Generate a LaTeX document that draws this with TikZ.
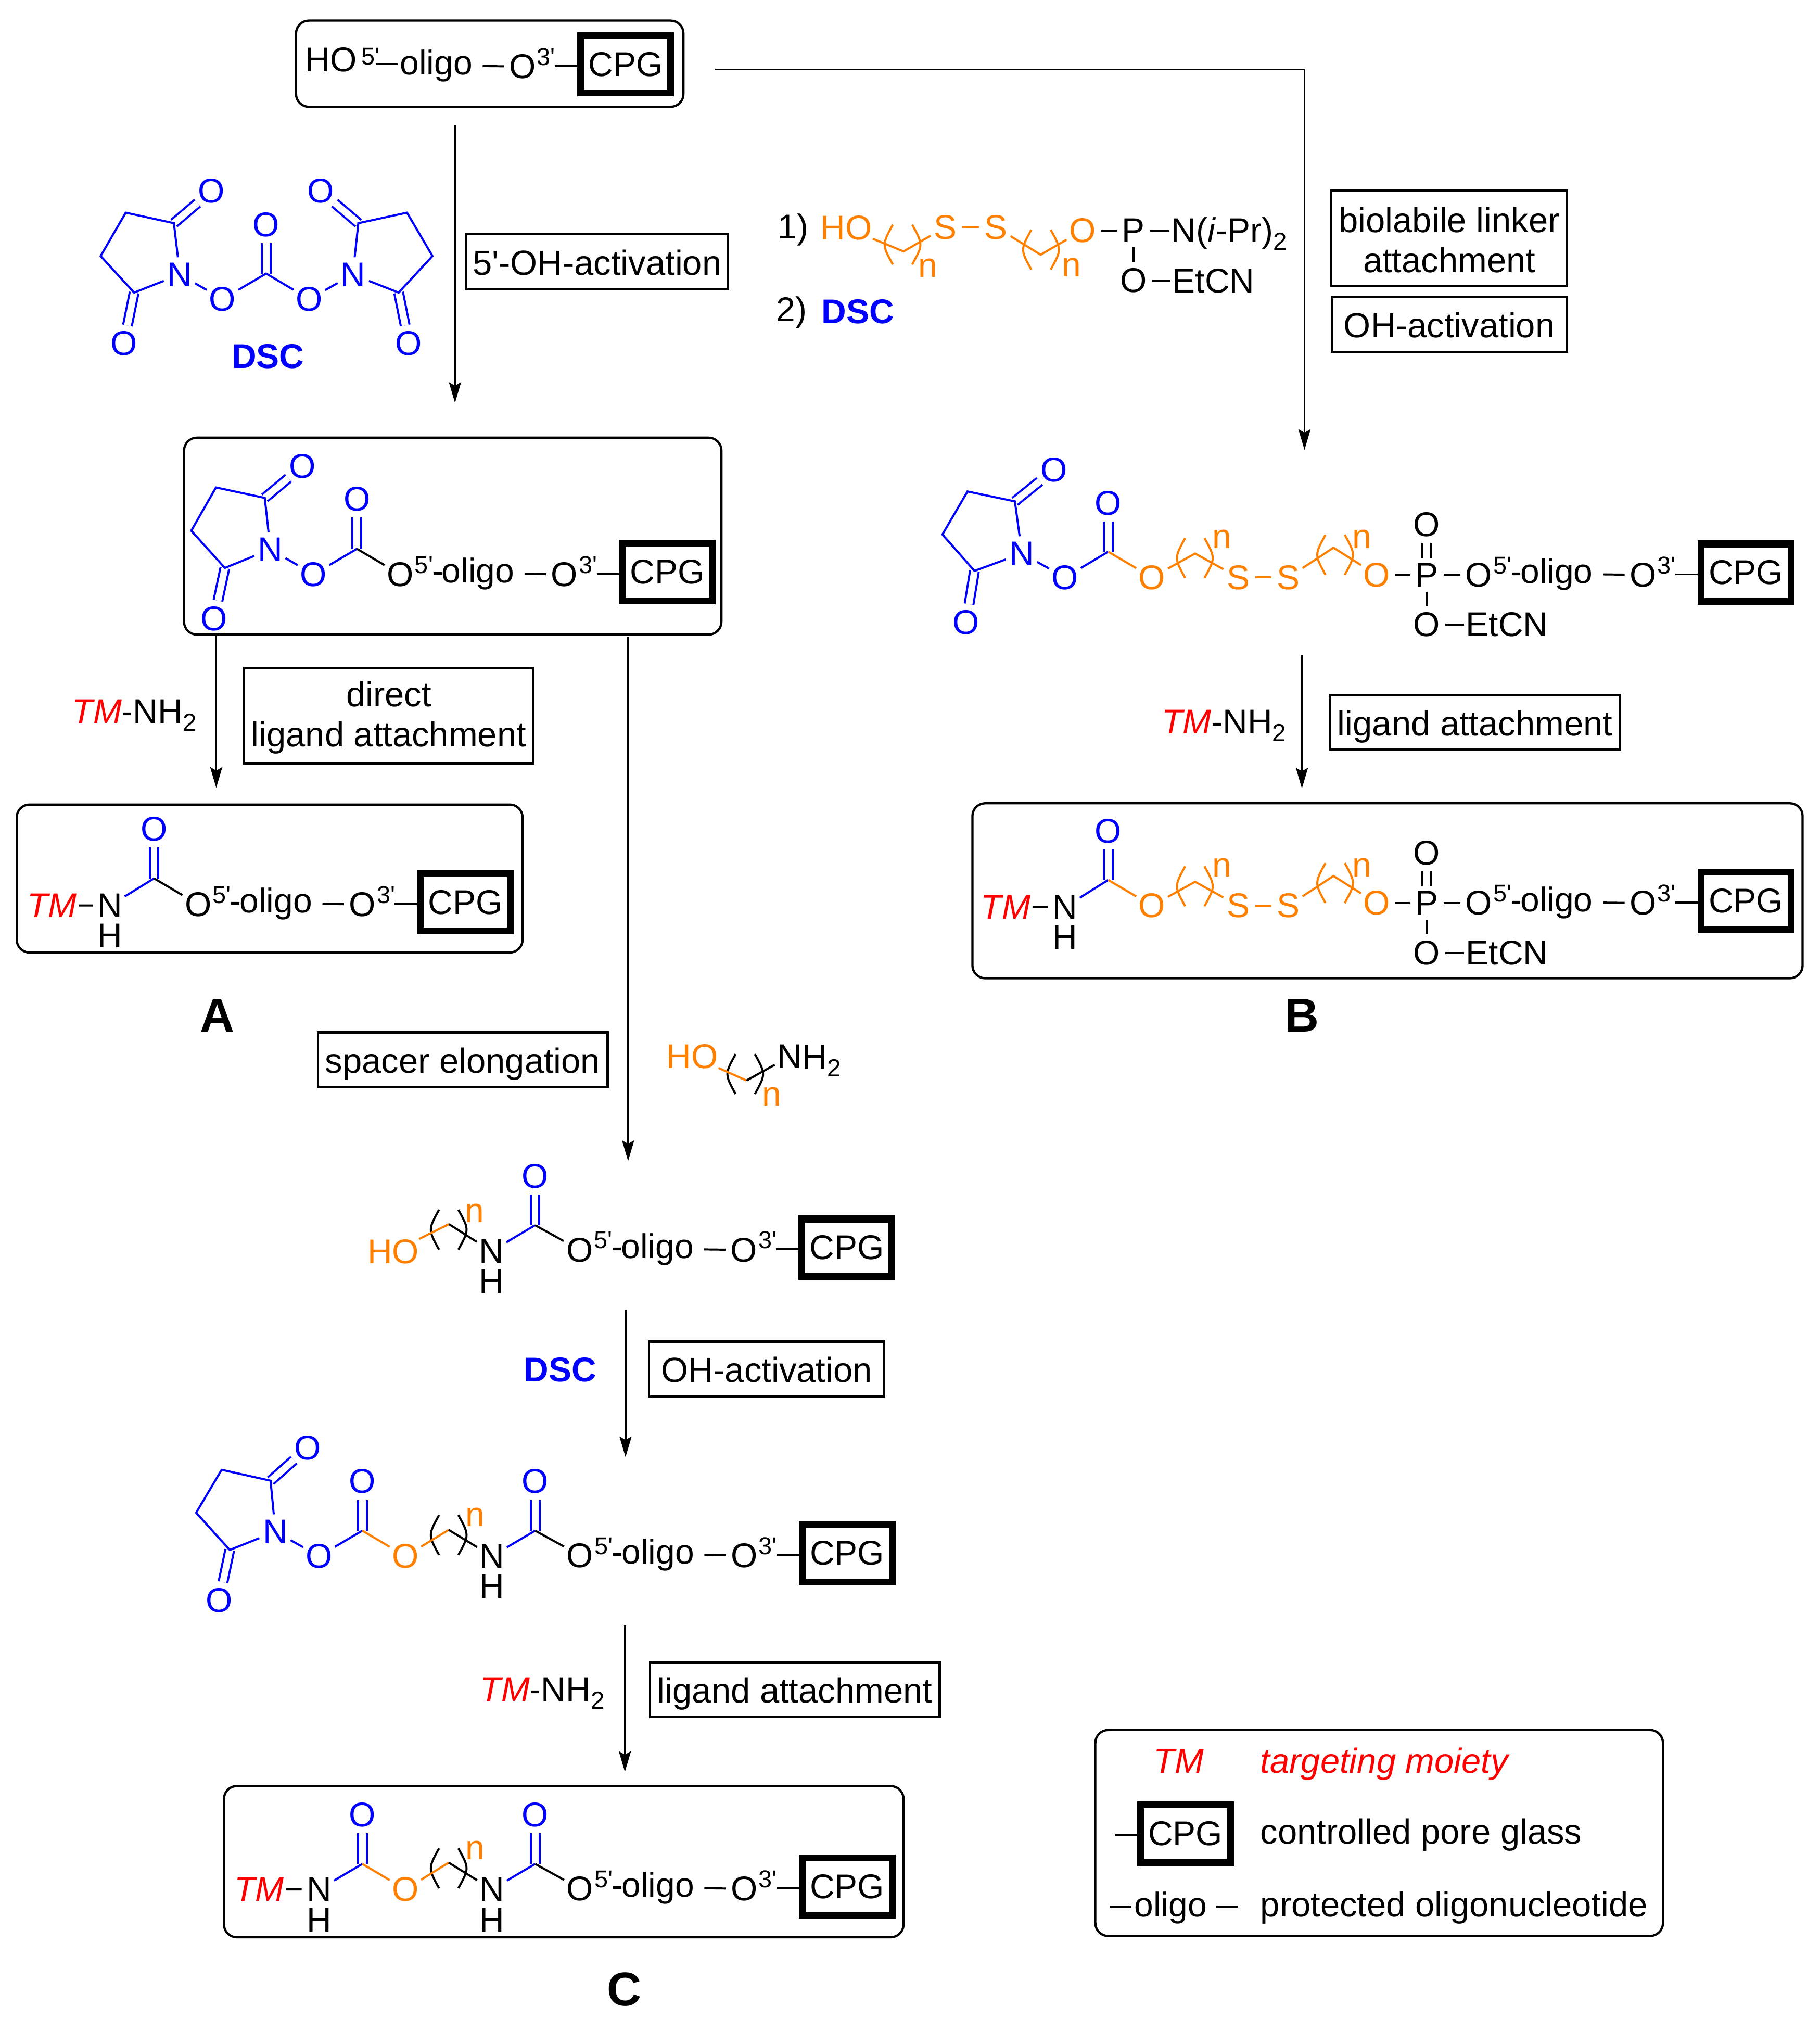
\documentclass[tikz,border=0pt]{standalone}
\usepackage{fontspec}
\setmainfont{Liberation Sans}
\usetikzlibrary{arrows.meta}
\definecolor{chemblue}{RGB}{0,0,255}
\definecolor{chemorange}{RGB}{255,128,0}
\definecolor{chemred}{RGB}{255,0,0}
\newcommand{\chemfont}{\fontsize{20}{24}\selectfont}
\newcommand{\labelfont}{\fontsize{20.3}{23.3}\selectfont}
\newcommand{\supfont}{\fontsize{14.2}{15}\selectfont}
\newcommand{\subtwo}{\raisebox{-4.5pt}{\fontsize{14.4}{15}\selectfont 2}}
\newcommand{\prm}{\textquotesingle}
\newcommand{\firstline}{\rule{0pt}{17pt}}
\tikzset{
  atom/.style={circle,inner sep=0pt,font=\chemfont},
  atomb/.style={atom,text=chemblue},
  atomo/.style={atom,text=chemorange},
  hatom/.style={inner sep=0pt,font=\chemfont},
  chem/.style={inner sep=1pt,anchor=base west,font=\chemfont},
  supr/.style={inner sep=0pt,anchor=base west,font=\supfont},
  tmtext/.style={chem,text=chemred,font=\chemfont\itshape},
  nsub/.style={atomo},
  bond/.style={line width=1.2pt},
  bondb/.style={bond,draw=chemblue},
  bondo/.style={bond,draw=chemorange},
  dbl/.style={bond,double=white,double distance=3.9pt},
  dblb/.style={dbl,draw=chemblue},
  cpg/.style={draw,line width=4pt,minimum width=52.5pt,minimum height=33.5pt,inner sep=0pt,font=\chemfont},
  roundbox/.style={line width=1.3pt,rounded corners=7.5pt},
  labelbox/.style={draw,line width=1.3pt,inner sep=0pt,align=center,font=\labelfont},
  labelone/.style={labelbox,text height=15.6pt,text depth=0pt},
  labelwide/.style={labelone,minimum width=168.8pt,minimum height=31.7pt},
  labelshort/.style={labelone,minimum width=137pt,minimum height=32pt},
  rxn/.style={line width=1.1pt,-{Stealth[length=12pt,width=7pt,inset=2pt]}},
  legend/.style={inner sep=0pt,anchor=base west,font=\labelfont},
  bigletter/.style={inner sep=0pt,anchor=base,font=\fontsize{27.7}{30}\selectfont\bfseries},
  dsctext/.style={inner sep=0pt,text=chemblue,font=\chemfont\bfseries}
}
\begin{document}
\begin{tikzpicture}[x=0.75pt,y=0.75pt,yscale=-1,xscale=1]
\useasboundingbox (0,0) rectangle (1414,1568.5);

%Rounded frames
\draw[roundbox] (230,16) rectangle (531,83);
\draw[roundbox] (143,340) rectangle (560.5,493);
\draw[roundbox] (13,625) rectangle (406,740);
\draw[roundbox] (755.5,624) rectangle (1400.5,760);
\draw[roundbox] (174,1387.5) rectangle (702,1505);
\draw[roundbox] (851,1344) rectangle (1292,1504);

%oligo and CPG, all eight chains
\foreach \n/\x/\y in {ch0/278.5/51.7,ch1/311/446.2,ch2/154/702.6,ch3/1149/446.6,ch4/1149/701.6,ch5/450.4/971,ch6/450.7/1208.4,ch7/450.7/1467.3}{
  \begin{scope}[shift={(\x,\y)}]
    \node[chem,inner sep=0pt] (\n-oligo) at (32,6.5) {oligo};
    \coordinate (\n-da) at (96.5,-0.4);
    \node[atom] (\n-o3) at (127.5,0) {O};
    \node[supr] (\n-s3) at (138.5,-1) {3\prm};
    \coordinate (\n-db) at (152.6,-0.4);
    \node[cpg] (\n-box) at (207.5,-1.7) {CPG};
    \draw[bond] (\n-da) -- (\n-o3);
    \draw[bond] (\n-db) -- (\n-db -| \n-box.west);
  \end{scope}
}
%the 5' end
\foreach \n/\x/\y in {ch1/311/446.2,ch2/154/702.6,ch3/1149/446.6,ch4/1149/701.6,ch5/450.4/971,ch6/450.7/1208.4,ch7/450.7/1467.3}{
  \begin{scope}[shift={(\x,\y)}]
    \node[atom] (\n-o5) at (0,0) {O};
    \node[supr] (\n-s5) at (11,-1) {5\prm};
    \node[chem,inner sep=0pt] (\n-hy) at (24.4,6.5) {-};
  \end{scope}
}
%brackets of the repeat units
\foreach \cx/\cy/\col in {701.2/190/chemorange,808.8/194/chemorange,928.3/433.5/chemorange,1037.3/431/chemorange,928.3/688.5/chemorange,1037.3/686/chemorange,579/834.4/black,348.6/955.3/black,348.6/1192.5/black,348.6/1451.4/black}{
  \draw[bond,draw=\col] (\cx-7.5,\cy-15.5) .. controls (\cx-16,\cy) .. (\cx-7.5,\cy+15.5);
  \draw[bond,draw=\col] (\cx+7.5,\cy-15.5) .. controls (\cx+16,\cy) .. (\cx+7.5,\cy+15.5);
}

%Top chain
\node[chem,inner sep=0pt] (hotop) at (237,55.8) {HO};
\node[supr] (s5top) at (280.5,50.4) {5\prm};
\coordinate (dtopa) at (292,49.8);
\coordinate (dtopb) at (309,49.8);
\draw[bond] (dtopa) -- (dtopb);

%DSC
\begin{scope}[shift={(0.5,1)}]
\coordinate (dc1) at (134.6,172.4);
\coordinate (dc2) at (97.2,164.2);
\coordinate (dc3) at (77.7,197.9);
\coordinate (dc4) at (103.7,226.3);
\coordinate (dc5) at (206.3,211.5);
\coordinate (dc6) at (277.9,172.4);
\coordinate (dc7) at (315.7,164.2);
\coordinate (dc8) at (335.5,197.9);
\coordinate (dc9) at (309.2,226.3);
\node[atomb] (dn1) at (139.3,212.3) {N};
\node[atomb] (dn2) at (273.6,212.3) {N};
\node[atomb] (do1) at (163.8,147.5) {O};
\node[atomb] (do2) at (95.7,265.8) {O};
\node[atomb] (do3) at (172.4,231.4) {O};
\node[atomb] (do4) at (206.3,173.4) {O};
\node[atomb] (do5) at (239.7,231.4) {O};
\node[atomb] (do6) at (248.7,147.5) {O};
\node[atomb] (do7) at (317.1,265.8) {O};
\node[dsctext] (dscname) at (207.7,276) {DSC};
\draw[dblb] (dc1) -- (do1);
\draw[dblb] (dc4) -- (do2);
\draw[dblb] (dc5) -- (do4);
\draw[dblb] (dc6) -- (do6);
\draw[dblb] (dc9) -- (do7);
\draw[bondb] (dn1) -- (dc1) -- (dc2) -- (dc3) -- (dc4) -- (dn1);
\draw[bondb] (dn1) -- (do3);
\draw[bondb] (do3) -- (dc5) -- (do5);
\draw[bondb] (do5) -- (dn2);
\draw[bondb] (dn2) -- (dc6) -- (dc7) -- (dc8) -- (dc9) -- (dn2);
\end{scope}

%Linker reagent
\begin{scope}[shift={(2,1)}]
\node[chem,inner sep=0pt] (one) at (602,184.5) {1)};
\node[chem,inner sep=0pt] (two) at (601,248.5) {2)};
\node[dsctext] (dsctwo) at (664.5,241) {DSC};
\node[atomo] (lho) at (655.5,176) {HO};
\coordinate (lc1) at (700,194.3);
\node[atomo] (ls1) at (732.4,175.5) {S};
\node[atomo] (ls2) at (771.9,175.5) {S};
\coordinate (lc2) at (806.5,196.9);
\node[atomo] (lo) at (839,178) {O};
\node[atom] (lp) at (878.6,178) {P};
\node[chem] (lnipr) at (906.4,187.3) {N(\textit{i}-Pr)\subtwo};
\node[atom] (lo2) at (878.6,217) {O};
\node[chem] (letcn) at (907.4,226.3) {EtCN};
\node[nsub] (ln1) at (718.8,207) {n};
\node[nsub] (ln2) at (830.4,206.6) {n};
\draw[bondo] (lho) -- (lc1) -- (ls1);
\draw[bondo] (ls1) -- (ls2);
\draw[bondo] (ls2) -- (lc2) -- (lo);
\draw[bond] (lo) -- (lp);
\draw[bond] (lp) -- (lp -| lnipr.west);
\draw[bond] (lp) -- (lo2);
\draw[bond] (lo2) -- (lo2 -| letcn.west);
\end{scope}

%Activated chain in the frame
\begin{scope}[shift={(1,1)}]
\coordinate (ac1) at (204.7,385.8);
\coordinate (ac2) at (166.8,377.7);
\coordinate (ac3) at (147.6,411.3);
\coordinate (ac4) at (173.7,440.2);
\coordinate (ac5) at (276.3,425.4);
\node[atomb] (an) at (209.1,425.8) {N};
\node[atomb] (ao1) at (234,361.3) {O};
\node[atomb] (ao2) at (165.4,479.6) {O};
\node[atomb] (ao3) at (242.6,445.2) {O};
\node[atomb] (ao4) at (276.3,386.8) {O};
\draw[dblb] (ac1) -- (ao1);
\draw[dblb] (ac4) -- (ao2);
\draw[dblb] (ac5) -- (ao4);
\draw[bondb] (an) -- (ac1) -- (ac2) -- (ac3) -- (ac4) -- (an);
\draw[bondb] (an) -- (ao3);
\draw[bondb] (ao3) -- (ac5);
\draw[bond] (ac5) -- (ch1-o5);
\end{scope}

%Product A
\node[tmtext] (tma) at (19.5,712.5) {TM};
\node[atom] (pan) at (85.4,703.5) {N};
\node[hatom] (pah) at (85.4,727) {H};
\coordinate (pac) at (119.7,682.4);
\node[atomb] (pao) at (119.7,644) {O};
\draw[dblb] (pac) -- (pao);
\draw[bond] (tma) -- (pan);
\draw[bondb] (pan) -- (pac);
\draw[bond] (pac) -- (ch2-o5);

%Linker chain, not yet in a frame
\begin{scope}[shift={(2,1)}]
\coordinate (bc1) at (786.5,388.5);
\coordinate (bc2) at (749.7,380.8);
\coordinate (bc3) at (730.2,414.2);
\coordinate (bc4) at (755.1,442.5);
\coordinate (bc5) at (859,427.6);
\coordinate (bc6) at (926.5,429);
\coordinate (bc7) at (1034,424.5);
\node[atomb] (bn) at (792,429) {N};
\node[atomb] (bo1) at (816.8,364) {O};
\node[atomb] (bo2) at (748.6,482.4) {O};
\node[atomb] (bo3) at (825.5,447.6) {O};
\node[atomb] (bo4) at (859,389.8) {O};
\node[atomo] (bo5) at (893,447.6) {O};
\node[atomo] (bs1) at (960,447.6) {S};
\node[atomo] (bs2) at (999,447.6) {S};
\node[atomo] (bo6) at (1067.5,445.6) {O};
\node[atom] (bp) at (1106.5,445.6) {P};
\node[atom] (bo7) at (1106.5,406.5) {O};
\node[atom] (bo8) at (1106.5,484.2) {O};
\node[chem] (betcn) at (1135.4,493.5) {EtCN};
\node[nsub] (bn1) at (947.3,418) {n};
\node[nsub] (bn2) at (1056,418) {n};
\draw[dblb] (bc1) -- (bo1);
\draw[dblb] (bc4) -- (bo2);
\draw[dblb] (bc5) -- (bo4);
\draw[dbl] (bp) -- (bo7);
\draw[bondb] (bn) -- (bc1) -- (bc2) -- (bc3) -- (bc4) -- (bn);
\draw[bondb] (bn) -- (bo3);
\draw[bondb] (bo3) -- (bc5);
\draw[bondo] (bc5) -- (bo5);
\draw[bondo] (bo5) -- (bc6) -- (bs1);
\draw[bondo] (bs1) -- (bs2);
\draw[bondo] (bs2) -- (bc7) -- (bo6);
\draw[bond] (bo6) -- (bp);
\draw[bond] (bp) -- (ch3-o5);
\draw[bond] (bp) -- (bo8);
\draw[bond] (bo8) -- (bo8 -| betcn.west);
\end{scope}

%Product B
\begin{scope}[shift={(2,1)}]
\node[tmtext] (tmb) at (758.5,713) {TM};
\node[atom] (qn) at (825.5,703.6) {N};
\node[hatom] (qh) at (825.5,727) {H};
\coordinate (qc5) at (859,682.6);
\coordinate (qc6) at (926.5,684);
\coordinate (qc7) at (1034,679.5);
\node[atomb] (qo4) at (859,644.8) {O};
\node[atomo] (qo5) at (893,702.6) {O};
\node[atomo] (qs1) at (960,702.6) {S};
\node[atomo] (qs2) at (999,702.6) {S};
\node[atomo] (qo6) at (1067.5,700.6) {O};
\node[atom] (qp) at (1106.5,700.6) {P};
\node[atom] (qo7) at (1106.5,661.5) {O};
\node[atom] (qo8) at (1106.5,739.2) {O};
\node[chem] (qetcn) at (1135.4,748.5) {EtCN};
\node[nsub] (qn1) at (947.3,673) {n};
\node[nsub] (qn2) at (1056,673) {n};
\draw[dblb] (qc5) -- (qo4);
\draw[dbl] (qp) -- (qo7);
\draw[bond] (tmb) -- (qn);
\draw[bondb] (qn) -- (qc5);
\draw[bondo] (qc5) -- (qo5);
\draw[bondo] (qo5) -- (qc6) -- (qs1);
\draw[bondo] (qs1) -- (qs2);
\draw[bondo] (qs2) -- (qc7) -- (qo6);
\draw[bond] (qo6) -- (qp);
\draw[bond] (qp) -- (ch4-o5);
\draw[bond] (qp) -- (qo8);
\draw[bond] (qo8) -- (qo8 -| qetcn.west);
\end{scope}

%Amino alcohol
\begin{scope}[shift={(1,2)}]
\node[atomo] (aho) at (536.9,818.6) {HO};
\coordinate (ahc) at (579,837.4);
\node[atom] (ahn) at (612.7,818.6) {N};
\node[chem,inner sep=0pt] (ahh) at (622,828.2) {H\subtwo};
\node[nsub] (ahm) at (598.5,850) {n};
\draw[bondo] (aho) -- (ahc);
\draw[bond] (ahc) -- (ahn);
\end{scope}

%Spacer chain
\begin{scope}[shift={(0,2)}]
\node[atomo] (sho) at (305.6,970.4) {HO};
\coordinate (sc1) at (348.8,949);
\node[atom] (sn) at (381.8,970) {N};
\node[hatom] (sh) at (381.8,993.6) {H};
\coordinate (sc2) at (415.7,949.8);
\node[atomb] (so) at (415.7,911.6) {O};
\node[nsub] (sm) at (368.8,940.5) {n};
\draw[dblb] (sc2) -- (so);
\draw[bondo] (sho) -- (sc1);
\draw[bond] (sc1) -- (sn);
\draw[bondb] (sn) -- (sc2);
\draw[bond] (sc2) -- (ch5-o5);
\end{scope}

%Activated spacer chain
\begin{scope}[shift={(0,1.5)}]
\coordinate (tc1) at (210.2,1148.8);
\coordinate (tc2) at (172.2,1140.3);
\coordinate (tc3) at (152.4,1173.7);
\coordinate (tc4) at (178.5,1202.6);
\coordinate (tc5) at (281.5,1187.6);
\coordinate (tc6) at (348.6,1187);
\coordinate (tc7) at (415.8,1187.6);
\node[atomb] (tn) at (214,1188.4) {N};
\node[atomb] (to1) at (239,1123.4) {O};
\node[atomb] (to2) at (170.3,1241.6) {O};
\node[atomb] (to3) at (247.9,1207.4) {O};
\node[atomb] (to4) at (281.5,1149.4) {O};
\node[atomo] (to5) at (315,1207.4) {O};
\node[atom] (tn2) at (382.2,1207.4) {N};
\node[hatom] (th) at (382.2,1231) {H};
\node[atomb] (to6) at (415.8,1149.4) {O};
\node[nsub] (tm) at (369.1,1177) {n};
\draw[dblb] (tc1) -- (to1);
\draw[dblb] (tc4) -- (to2);
\draw[dblb] (tc5) -- (to4);
\draw[dblb] (tc7) -- (to6);
\draw[bondb] (tn) -- (tc1) -- (tc2) -- (tc3) -- (tc4) -- (tn);
\draw[bondb] (tn) -- (to3);
\draw[bondb] (to3) -- (tc5);
\draw[bondo] (tc5) -- (to5);
\draw[bondo] (to5) -- (tc6);
\draw[bond] (tc6) -- (tn2);
\draw[bondb] (tn2) -- (tc7);
\draw[bond] (tc7) -- (ch6-o5);
\end{scope}

%Product C
\begin{scope}[shift={(0,2)}]
\node[tmtext] (tmc) at (180.5,1475) {TM};
\node[atom] (un1) at (247.9,1465.8) {N};
\node[hatom] (uh1) at (247.9,1489.4) {H};
\coordinate (uc1) at (281.5,1446);
\coordinate (uc2) at (348.6,1445);
\coordinate (uc3) at (415.8,1446);
\node[atomb] (uo1) at (281.5,1407.8) {O};
\node[atomo] (uo2) at (315,1465.8) {O};
\node[atom] (un2) at (382.2,1465.8) {N};
\node[hatom] (uh2) at (382.2,1489.4) {H};
\node[atomb] (uo3) at (415.8,1407.8) {O};
\node[nsub] (um) at (369.1,1435.4) {n};
\draw[dblb] (uc1) -- (uo1);
\draw[dblb] (uc3) -- (uo3);
\draw[bond] (tmc) -- (un1);
\draw[bondb] (un1) -- (uc1);
\draw[bondo] (uc1) -- (uo2);
\draw[bondo] (uo2) -- (uc2);
\draw[bond] (uc2) -- (un2);
\draw[bondb] (un2) -- (uc3);
\draw[bond] (uc3) -- (ch7-o5);
\end{scope}

%Reaction arrows
\coordinate (r1a) at (353.5,97);
\coordinate (r1b) at (353.5,313);
\coordinate (r2a) at (555.5,54);
\coordinate (r2c) at (1013.5,54);
\coordinate (r2b) at (1013.5,349.5);
\coordinate (r3a) at (168,493);
\coordinate (r3b) at (168,612);
\coordinate (r4a) at (488,495);
\coordinate (r4b) at (488,902);
\coordinate (r5a) at (1011.5,509);
\coordinate (r5b) at (1011.5,612.5);
\coordinate (r6a) at (486,1017.5);
\coordinate (r6b) at (486,1132);
\coordinate (r7a) at (485.5,1262.5);
\coordinate (r7b) at (485.5,1376.5);
\draw[rxn] (r1a) -- (r1b);
\draw[rxn] (r2a) -- (r2c) -- (r2b);
\draw[rxn] (r3a) -- (r3b);
\draw[rxn] (r4a) -- (r4b);
\draw[rxn] (r5a) -- (r5b);
\draw[rxn] (r6a) -- (r6b);
\draw[rxn] (r7a) -- (r7b);

%Boxed step names
\node[labelone,minimum width=152.5pt,minimum height=32.1pt] (lbl1) at (464,203.3) {5\prm-OH-activation};
\node[labelbox,minimum width=137.3pt,minimum height=55.4pt] (lbl2) at (1126,185) {\firstline biolabile linker\\attachment};
\node[labelshort] (lbl3) at (1126,252) {OH-activation};
\node[labelbox,minimum width=168.4pt,minimum height=55.5pt] (lbl4) at (302,556) {\firstline direct\\ligand attachment};
\node[labelwide] (lbl5) at (359.5,823.2) {spacer elongation};
\node[labelwide] (lbl6) at (1146,561) {ligand attachment};
\node[labelshort] (lbl7) at (595.6,1063.5) {OH-activation};
\node[labelwide] (lbl8) at (617.5,1312.6) {ligand attachment};

%Reagents over the arrows
\node[tmtext] (ra1) at (54.5,562) {TM\textcolor{black}{\normalfont\chemfont-NH\subtwo}};
\node[tmtext] (ra2) at (901,570) {TM\textcolor{black}{\normalfont\chemfont-NH\subtwo}};
\node[tmtext] (ra3) at (371.5,1321.5) {TM\textcolor{black}{\normalfont\chemfont-NH\subtwo}};
\node[dsctext] (dscthree) at (435.3,1064) {DSC};

%Series letters
\node[bigletter] (la) at (169,801.5) {A};
\node[bigletter] (lb) at (1011.5,801.5) {B};
\node[bigletter] (lc) at (485,1558) {C};

%Legend
\node[legend,text=chemred,font=\labelfont\itshape] (lgtm) at (896,1377.5) {TM};
\node[legend,text=chemred,font=\labelfont\itshape] (lgtmt) at (979,1377.5) {targeting moiety};
\node[cpg] (lgbox) at (921,1424.5) {CPG};
\coordinate (lgd) at (866.5,1425.5);
\draw[bond] (lgd) -- (lgd -| lgbox.west);
\node[legend] (lgcpg) at (979,1432.5) {controlled pore glass};
\coordinate (lge1) at (862,1481.2);
\coordinate (lge2) at (879,1481.2);
\coordinate (lge3) at (945,1481.2);
\coordinate (lge4) at (962,1481.2);
\draw[bond] (lge1) -- (lge2);
\draw[bond] (lge3) -- (lge4);
\node[chem,inner sep=0pt] (lgoligo) at (881,1489) {oligo};
\node[legend] (lgprot) at (979,1489) {protected oligonucleotide};

\end{tikzpicture}
\end{document}
